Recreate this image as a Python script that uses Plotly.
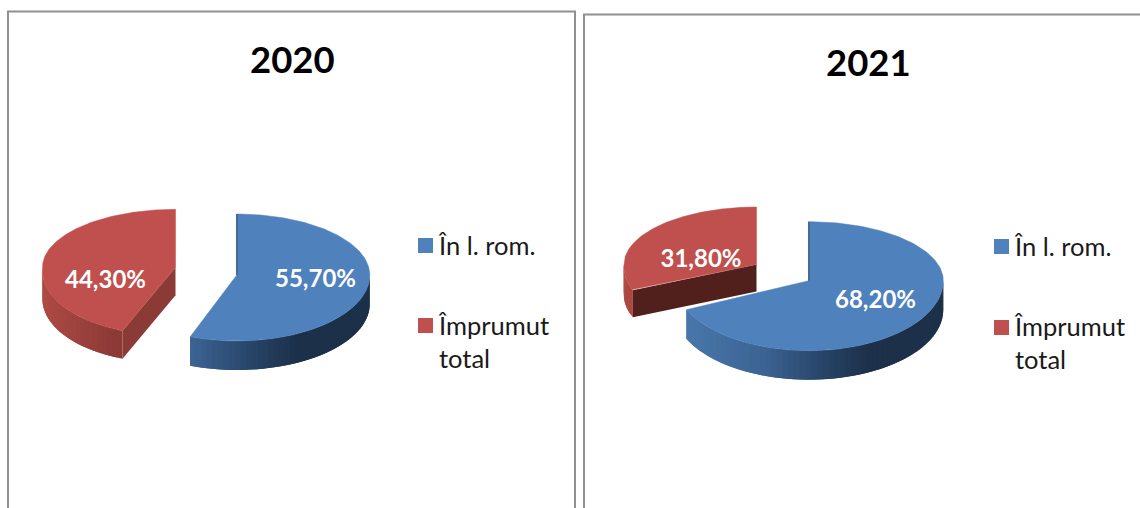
import numpy as np
import plotly.graph_objects as go

# ---- data ----
years = ["2020", "2021"]
categories = ["În l. rom.", "Împrumut total"]
legend_labels = ["În l. rom.", "Împrumut<br>total"]
values_2020 = [55.7, 44.3]
values_2021 = [68.2, 31.8]
series = [values_2020, values_2021]

# ---- styles ----
FONT = "Lato"
TOP = ["#4F81BD", "#C0504D"]
WALL_STOPS = [
    [(-1.0, (74, 122, 174)), (-0.35, (60, 100, 148)), (0.15, (38, 66, 100)), (0.45, (28, 48, 73)), (1.0, (28, 48, 73))],
    [(-1.0, (176, 74, 69)), (-0.4, (139, 58, 54)), (1.0, (139, 58, 54))],
]
# geometry per pie, per slice: centre, radii (back/front), depth, front shear, cut-face colour
GEOM = [
    [dict(cx=236.8, cy=275.0, a=133, bb=61, bf=66, d=29, s=0.0, cut=None),
     dict(cx=175.5, cy=267.3, a=133, bb=58, bf=67.7, d=28, s=-0.10, cut="#8B3A36")],
    [dict(cx=808.8, cy=280.7, a=134.5, bb=59, bf=70, d=29, s=0.0, cut=None),
     dict(cx=756.5, cy=264.5, a=132.5, bb=57.5, bf=62, d=27, s=-0.12, cut="#52201C")],
]
LABEL_POS = [[(315.5, 281), (105.5, 282)], [(875.5, 302), (701, 261)]]
TITLE_POS = [(292, 59), (868, 62)]
LEGEND_POS = [[(425.5, 245.5, 437, 229), (425.5, 325.5, 437, 309)],
              [(1001.5, 246.5, 1013, 230), (1001.5, 327.5, 1013, 310)]]
FRAME_PATHS = ["M8,508 L8,11.5 L575,11.5 L575,508", "M584,508 L584,14.5 L1140,14.5"]


def rim(g, deg):
    t = np.radians(np.asarray(deg, dtype=float))
    c = np.cos(t)
    b = np.where(c > 0, g["bb"], g["bf"])
    dy = -b * c
    x = g["cx"] + g["a"] * np.sin(t) + g["s"] * np.where(dy > 0, dy, 0)
    return x, g["cy"] + dy


def wall_color(stops, u):
    for (u0, c0), (u1, c1) in zip(stops, stops[1:]):
        if u <= u1:
            f = (u - u0) / (u1 - u0)
            return "rgb(%d,%d,%d)" % tuple(round(p + (q - p) * f) for p, q in zip(c0, c1))
    return "rgb(%d,%d,%d)" % stops[-1][1]


def poly(x, y, color, lw=0.0):
    return go.Scatter(x=list(x), y=list(y), mode="lines", fill="toself", fillcolor=color,
                      line=dict(color=color, width=lw), hoverinfo="skip", showlegend=False)


fig = go.Figure()

for p, vals in enumerate(series):
    start = 0.0
    for i, v in enumerate(vals):
        g = GEOM[p][i]
        end = start + v * 3.6
        # outer wall, visible on the front half of the rim only; strips overlap so no seams show
        lo, hi = max(start, 90.0), min(end, 270.0)
        if hi > lo:
            edges = np.linspace(lo, hi, int((hi - lo) / 2.5) + 2)
            for a0, a1 in zip(edges, edges[1:]):
                arc = np.linspace(a0, min(a1 + 2.5, hi), 4)
                x, y = rim(g, arc)
                u = float(np.sin(np.radians((a0 + a1) / 2)))
                fig.add_trace(poly(np.r_[x, x[::-1]], np.r_[y, y[::-1] + g["d"]],
                                   wall_color(WALL_STOPS[i], u)))
        # cut face
        if g["cut"]:
            tx, ty = rim(g, start)
            tx, ty = float(tx), float(ty)
            fig.add_trace(poly([g["cx"], tx, tx, g["cx"]],
                               [g["cy"], ty, ty + g["d"], g["cy"] + g["d"]], g["cut"]))
        # top face
        arc = np.linspace(start, end, 180)
        x, y = rim(g, arc)
        fig.add_trace(poly(np.r_[g["cx"], x, g["cx"]], np.r_[g["cy"], y, g["cy"]], TOP[i], 0.5))
        # dark sliver along the back radial edge of the blue slice
        if i == 0:
            x0, y0 = rim(g, 0.0)
            fig.add_trace(go.Scatter(x=[float(x0), g["cx"]], y=[float(y0), g["cy"]], mode="lines",
                                     line=dict(color="#24405F", width=1.0), hoverinfo="skip",
                                     showlegend=False))
        # value label
        lx, ly = LABEL_POS[p][i]
        fig.add_trace(go.Scatter(x=[lx], y=[ly], mode="text",
                                 text=[f"{v:.2f}".replace(".", ",") + "%"],
                                 textposition="middle center",
                                 textfont=dict(family=FONT, size=24, color="white", weight="bold"),
                                 hoverinfo="skip", showlegend=False))
        # legend swatch and entry
        sx, sy, tx, ty = LEGEND_POS[p][i]
        fig.add_trace(go.Scatter(x=[sx], y=[sy], mode="markers",
                                 marker=dict(symbol="square", size=15, color=TOP[i], line=dict(width=0)),
                                 hoverinfo="skip", showlegend=False))
        fig.add_annotation(x=tx, y=ty, xref="x", yref="y", xanchor="left", yanchor="top",
                           text=legend_labels[i], showarrow=False, align="left",
                           font=dict(family=FONT, size=25.5, color="#1a1a1a"), borderpad=0)
        start = end
    fig.add_annotation(x=TITLE_POS[p][0], y=TITLE_POS[p][1], xref="x", yref="y",
                       text=years[p], showarrow=False,
                       font=dict(family=FONT, size=36.5, color="black", weight="bold"))

for path in FRAME_PATHS:
    fig.add_shape(type="path", path=path, xref="x", yref="y",
                  line=dict(color="#909090", width=2), layer="below")

fig.update_layout(
    width=1140, height=508, margin=dict(l=0, r=0, t=0, b=0, pad=0),
    paper_bgcolor="white", plot_bgcolor="white", showlegend=False,
    xaxis=dict(range=[0, 1140], visible=False, fixedrange=True),
    yaxis=dict(range=[508, 0], visible=False, fixedrange=True),
)
fig.write_html("out.html", config={"displayModeBar": False},
               post_script="document.body.style.margin='0';document.body.style.overflow='hidden';")
